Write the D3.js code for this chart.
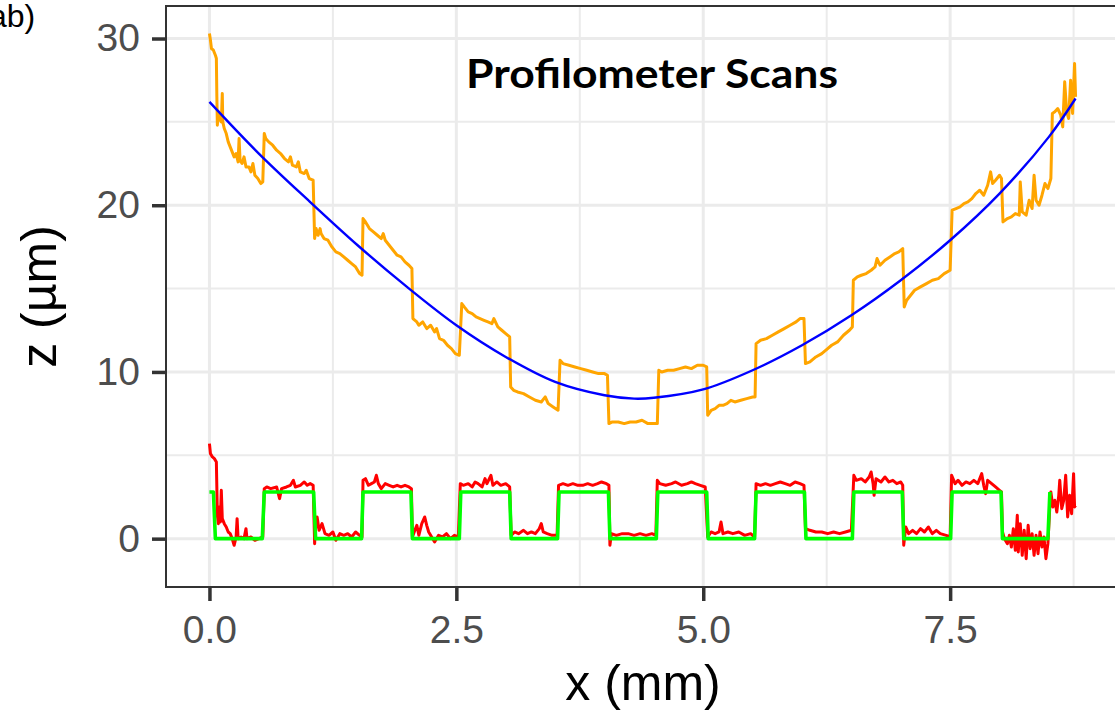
<!DOCTYPE html>
<html>
<head>
<meta charset="utf-8">
<script src="https://cdn.jsdelivr.net/npm/d3@7"></script>
<style>
  html, body { margin: 0; padding: 0; background: #fff; overflow: hidden; }
  svg { display: block; }
  .tick text { font-family: "Liberation Sans", Arial, sans-serif; }
</style>
</head>
<body>
<div id="chart"></div>
<script>
// ticks
const xTicks = [0, 2.5, 5, 7.5];
const xMinor = [1.25, 3.75, 6.25, 8.75];
const yTicks = [0, 10, 20, 30];
const yMinor = [5, 15, 25];

// profilometer scan of the curved part (x mm, z um)
const orangeScan = [
  [0, 30.3], [0.01, 29.9], [0.02, 29.4], [0.04, 29.3], [0.06, 29.0], [0.07, 28.8], [0.075, 26.5], [0.08, 24.8],
  [0.09, 25.6], [0.10, 25.2], [0.12, 25.0], [0.13, 26.7], [0.135, 25.0], [0.15, 24.6], [0.17, 24.3], [0.19, 23.8],
  [0.21, 23.5], [0.23, 23.2], [0.25, 22.9], [0.27, 23.1], [0.29, 22.6], [0.30, 24.0], [0.31, 22.7], [0.33, 22.5],
  [0.35, 22.9], [0.37, 22.3], [0.40, 22.3], [0.42, 22.0], [0.44, 22.5], [0.46, 21.8], [0.49, 21.6], [0.52, 21.3],
  [0.54, 21.4], [0.555, 24.3], [0.57, 24.0], [0.60, 23.8], [0.64, 23.6], [0.68, 23.3], [0.72, 23.1], [0.76, 22.8],
  [0.80, 22.6], [0.82, 22.9], [0.84, 22.4], [0.88, 22.3], [0.90, 22.6], [0.92, 22.0], [0.96, 21.9], [0.98, 22.1],
  [1.01, 21.6], [1.05, 21.5], [1.065, 18.0], [1.08, 18.6], [1.10, 18.2], [1.12, 18.6], [1.13, 18.3], [1.16, 18.0],
  [1.20, 17.9], [1.24, 17.5], [1.28, 17.2], [1.32, 17.1], [1.36, 16.9], [1.40, 16.7], [1.44, 16.5], [1.48, 16.3],
  [1.52, 15.9], [1.545, 15.8], [1.555, 19.2], [1.58, 19.0], [1.62, 18.6], [1.66, 18.4], [1.70, 18.2], [1.74, 18.0],
  [1.76, 18.3], [1.78, 17.9], [1.82, 17.6], [1.86, 17.3], [1.90, 17.0], [1.94, 16.9], [1.98, 16.6], [2.02, 16.4],
  [2.05, 16.2], [2.06, 13.2], [2.10, 13.0], [2.12, 12.8], [2.16, 13.0], [2.20, 12.6], [2.24, 12.8], [2.28, 12.4],
  [2.30, 12.6], [2.33, 12.0], [2.37, 11.9], [2.41, 11.6], [2.45, 11.4], [2.49, 11.1], [2.53, 11.0], [2.555, 14.1],
  [2.58, 13.9], [2.62, 13.6], [2.66, 13.5], [2.70, 13.3], [2.74, 13.2], [2.78, 13.1], [2.82, 13.0], [2.86, 12.9],
  [2.88, 13.2], [2.92, 12.7], [2.96, 12.5], [3.00, 12.3], [3.04, 12.1], [3.05, 9.1], [3.08, 8.9], [3.12, 8.8],
  [3.18, 8.7], [3.24, 8.5], [3.30, 8.3], [3.36, 8.2], [3.40, 8.5], [3.43, 8.1], [3.48, 7.9], [3.53, 7.7],
  [3.55, 10.7], [3.58, 10.5], [3.64, 10.4], [3.70, 10.3], [3.76, 10.2], [3.82, 10.1], [3.88, 10.0], [3.94, 9.9],
  [4.00, 9.9], [4.03, 9.8], [4.045, 6.9], [4.08, 7.0], [4.14, 7.0], [4.20, 6.9], [4.26, 7.0], [4.32, 7.0],
  [4.38, 7.1], [4.44, 6.9], [4.50, 6.9], [4.535, 6.9], [4.55, 10.1], [4.58, 10.0], [4.64, 10.1], [4.70, 10.1],
  [4.76, 10.2], [4.82, 10.3], [4.88, 10.2], [4.94, 10.4], [5.00, 10.4], [5.035, 10.3], [5.045, 7.4], [5.08, 7.7],
  [5.12, 7.8], [5.16, 8.0], [5.20, 8.0], [5.24, 8.1], [5.28, 8.3], [5.32, 8.2], [5.38, 8.3], [5.44, 8.4],
  [5.50, 8.5], [5.525, 8.5], [5.535, 11.7], [5.58, 11.9], [5.64, 12.0], [5.70, 12.2], [5.76, 12.4], [5.82, 12.6],
  [5.88, 12.8], [5.94, 13.0], [5.98, 13.2], [6.02, 13.2], [6.035, 10.5], [6.08, 10.6], [6.14, 10.9], [6.20, 11.1],
  [6.26, 11.4], [6.30, 11.6], [6.36, 11.8], [6.42, 12.2], [6.48, 12.5], [6.51, 12.7], [6.52, 15.5], [6.56, 15.7],
  [6.60, 15.8], [6.65, 15.9], [6.70, 16.1], [6.74, 16.3], [6.76, 16.8], [6.79, 16.4], [6.84, 16.7], [6.89, 16.9],
  [6.94, 17.1], [6.98, 17.2], [7.02, 17.4], [7.035, 13.9], [7.06, 14.3], [7.10, 14.6], [7.14, 14.9], [7.20, 15.1],
  [7.26, 15.3], [7.32, 15.5], [7.38, 15.6], [7.44, 15.9], [7.50, 16.1], [7.52, 19.7], [7.56, 19.8], [7.60, 19.9],
  [7.64, 20.1], [7.68, 20.2], [7.72, 20.4], [7.76, 20.7], [7.80, 20.9], [7.84, 20.6], [7.88, 21.2], [7.91, 22.0],
  [7.93, 21.3], [7.96, 21.5], [8.00, 21.8], [8.02, 21.6], [8.035, 19.0], [8.08, 19.2], [8.12, 19.3], [8.16, 19.5],
  [8.20, 19.4], [8.21, 21.4], [8.23, 19.6], [8.27, 19.4], [8.30, 20.3], [8.33, 19.8], [8.35, 21.8], [8.37, 20.3],
  [8.40, 20.0], [8.43, 20.6], [8.46, 21.3], [8.49, 21.0], [8.52, 21.6], [8.535, 25.5], [8.56, 25.6], [8.59, 25.8],
  [8.62, 25.4], [8.64, 24.7], [8.66, 27.4], [8.68, 25.6], [8.70, 25.2], [8.72, 27.5], [8.74, 25.5], [8.76, 28.5],
  [8.77, 26.5]
];

// polynomial fit of the curved scan
const blueFit = [
  [0, 26.2], [0.5, 23.1], [1.0, 20.3], [1.5, 17.6], [2.0, 15.1], [2.5, 12.8], [3.0, 10.9], [3.5, 9.4],
  [4.0, 8.6], [4.3, 8.4], [4.5, 8.45], [5.0, 8.95], [5.5, 10.1], [6.0, 11.6], [6.5, 13.4], [7.0, 15.5],
  [7.5, 17.9], [8.0, 20.7], [8.5, 24.1], [8.77, 26.4]
];

// flattened scan (residual steps)
const redScan = [
  [0, 5.7], [0.01, 5.1], [0.03, 4.9], [0.05, 4.8], [0.07, 4.6], [0.08, 1.4], [0.09, 0.9], [0.10, 1.9],
  [0.11, 1.0], [0.12, 2.9], [0.13, 1.2], [0.15, 0.9], [0.17, 0.7], [0.19, 0.4], [0.21, 0.3], [0.23, 0.0],
  [0.25, -0.4], [0.27, 0.1], [0.28, 1.2], [0.29, 0.0], [0.32, 0.1], [0.35, 0.0], [0.37, 0.6], [0.38, 0.0],
  [0.42, 0.1], [0.46, -0.1], [0.50, 0.0], [0.54, 0.1], [0.555, 3.0], [0.58, 3.1], [0.62, 3.0], [0.68, 3.1],
  [0.71, 2.4], [0.73, 3.0], [0.78, 3.1], [0.82, 3.2], [0.85, 3.5], [0.87, 3.1], [0.92, 3.2], [0.96, 3.4],
  [0.99, 3.2], [1.02, 3.3], [1.05, 3.2], [1.065, -0.3], [1.07, 0.4], [1.09, 1.3], [1.11, 0.5], [1.14, 0.9],
  [1.17, 0.3], [1.21, 0.2], [1.25, 0.4], [1.28, -0.1], [1.32, 0.3], [1.36, 0.2], [1.40, 0.3], [1.44, 0.1],
  [1.48, 0.4], [1.52, 0.2], [1.545, 0.1], [1.555, 3.5], [1.58, 3.6], [1.61, 3.2], [1.64, 3.3], [1.67, 3.4],
  [1.69, 3.8], [1.71, 3.3], [1.74, 3.0], [1.78, 3.3], [1.82, 3.2], [1.86, 3.1], [1.90, 3.2], [1.94, 3.1],
  [1.98, 3.2], [2.02, 3.1], [2.045, 3.0], [2.055, 0.1], [2.08, 0.5], [2.10, 0.8], [2.12, 0.2], [2.15, 0.9],
  [2.18, 1.3], [2.20, 0.8], [2.22, 0.4], [2.25, 0.1], [2.28, -0.2], [2.32, 0.2], [2.36, 0.1], [2.40, 0.3],
  [2.44, 0.0], [2.48, 0.2], [2.52, 0.1], [2.54, 3.3], [2.57, 3.2], [2.62, 3.3], [2.66, 3.1], [2.69, 3.4],
  [2.72, 3.3], [2.76, 3.1], [2.79, 3.6], [2.81, 3.3], [2.85, 3.8], [2.87, 3.2], [2.91, 3.4], [2.95, 3.2],
  [3.00, 3.3], [3.04, 3.1], [3.055, 0.2], [3.09, 0.4], [3.13, 0.3], [3.18, 0.5], [3.22, 0.3], [3.26, 0.4],
  [3.30, 0.3], [3.34, 0.6], [3.36, 0.9], [3.38, 0.4], [3.42, 0.3], [3.47, 0.2], [3.52, 0.2], [3.535, 3.2],
  [3.58, 3.3], [3.63, 3.2], [3.68, 3.3], [3.73, 3.2], [3.78, 3.2], [3.83, 3.3], [3.88, 3.2], [3.93, 3.3],
  [3.97, 3.4], [4.02, 3.3], [4.045, 3.2], [4.055, -0.4], [4.07, 0.3], [4.12, 0.2], [4.18, 0.3], [4.24, 0.3],
  [4.30, 0.2], [4.36, 0.3], [4.42, 0.2], [4.48, 0.3], [4.52, 0.2], [4.535, 3.5], [4.56, 3.3], [4.62, 3.2],
  [4.68, 3.3], [4.72, 3.4], [4.78, 3.2], [4.84, 3.3], [4.88, 3.4], [4.92, 3.3], [4.97, 3.2], [5.02, 3.1],
  [5.045, 0.1], [5.08, 0.4], [5.12, 0.3], [5.16, 0.4], [5.18, 1.0], [5.20, 0.3], [5.25, 0.4], [5.30, 0.3],
  [5.36, 0.4], [5.42, 0.2], [5.48, 0.3], [5.52, 0.1], [5.535, 3.3], [5.58, 3.2], [5.63, 3.3], [5.68, 3.2],
  [5.73, 3.3], [5.78, 3.4], [5.83, 3.3], [5.88, 3.2], [5.93, 3.4], [5.98, 3.3], [6.02, 3.2], [6.035, 0.6],
  [6.08, 0.5], [6.14, 0.4], [6.20, 0.4], [6.26, 0.3], [6.32, 0.4], [6.38, 0.3], [6.44, 0.4], [6.50, 0.5],
  [6.525, 3.8], [6.55, 3.5], [6.60, 3.6], [6.64, 3.4], [6.68, 3.7], [6.70, 4.0], [6.72, 3.3], [6.73, 2.6],
  [6.75, 3.6], [6.80, 3.4], [6.84, 3.7], [6.88, 3.4], [6.92, 3.5], [6.96, 3.3], [7.00, 3.4], [7.02, 3.2],
  [7.03, -0.4], [7.05, 0.7], [7.08, 0.3], [7.12, 0.5], [7.16, 0.3], [7.20, 0.6], [7.24, 0.4], [7.28, 0.7],
  [7.32, 0.3], [7.36, 0.5], [7.40, 0.3], [7.46, 0.2], [7.50, 0.1], [7.515, 3.8], [7.55, 3.3], [7.58, 3.5],
  [7.62, 3.2], [7.66, 3.4], [7.70, 3.3], [7.74, 3.5], [7.78, 3.3], [7.82, 3.9], [7.84, 3.2], [7.86, 2.7],
  [7.88, 3.5], [7.92, 3.3], [7.96, 3.1], [8.00, 2.9], [8.02, 2.8], [8.03, 0.4], [8.05, 0.0], [8.08, -0.3],
  [8.10, 0.2], [8.12, -0.5], [8.14, 0.6], [8.16, -0.7], [8.18, 1.4], [8.19, -0.8], [8.21, 0.9], [8.23, -1.0],
  [8.25, 0.5], [8.27, -1.2], [8.29, 0.8], [8.31, -0.6], [8.33, 0.3], [8.35, -1.0], [8.37, 0.2], [8.39, -0.9],
  [8.41, 0.4], [8.43, -0.5], [8.45, 0.1], [8.47, -1.2], [8.49, -0.3], [8.51, 2.0], [8.52, 2.8], [8.54, 1.9],
  [8.56, 2.3], [8.58, 1.6], [8.60, 2.6], [8.61, 3.5], [8.63, 1.8], [8.65, 2.3], [8.67, 3.8], [8.69, 1.3],
  [8.71, 2.6], [8.73, 1.5], [8.75, 3.9], [8.76, 1.9], [8.77, 2.0]
];

// ideal step profile
const greenSteps = [
  [0, 2.8], [0.04, 2.8], [0.06, 0], [0.535, 0], [0.555, 2.8], [1.055, 2.8], [1.075, 0], [1.54, 0],
  [1.555, 2.8], [2.04, 2.8], [2.055, 0], [2.53, 0], [2.545, 2.8], [3.04, 2.8], [3.055, 0], [3.525, 0],
  [3.54, 2.8], [4.04, 2.8], [4.055, 0], [4.525, 0], [4.54, 2.8], [5.035, 2.8], [5.05, 0], [5.52, 0],
  [5.535, 2.8], [6.025, 2.8], [6.04, 0], [6.51, 0], [6.525, 2.8], [7.015, 2.8], [7.03, 0], [7.505, 0],
  [7.52, 2.8], [8.015, 2.8], [8.03, 0], [8.49, 0], [8.51, 2.8]
];

const W = 1115, H = 718;
const panel = { left: 166, right: 1120, top: 6, bottom: 587 };

const svg = d3.select("#chart").append("svg")
  .attr("width", W).attr("height", H);

const x = d3.scaleLinear().domain([-0.44, 9.22]).range([panel.left, panel.right]);
const y = d3.scaleLinear().domain([-2.9, 31.95]).range([panel.bottom, panel.top]);

svg.append("defs").append("clipPath").attr("id", "clip")
  .append("rect")
  .attr("x", panel.left).attr("y", panel.top)
  .attr("width", panel.right - panel.left).attr("height", panel.bottom - panel.top);

// grid
const grid = svg.append("g");
grid.selectAll(".gxm").data(xMinor).join("line")
  .attr("x1", d => x(d)).attr("x2", d => x(d))
  .attr("y1", panel.top).attr("y2", panel.bottom)
  .attr("stroke", "#ebebeb").attr("stroke-width", 2);
grid.selectAll(".gym").data(yMinor).join("line")
  .attr("y1", d => y(d)).attr("y2", d => y(d))
  .attr("x1", panel.left).attr("x2", panel.right)
  .attr("stroke", "#ebebeb").attr("stroke-width", 2);
grid.selectAll(".gx").data(xTicks).join("line")
  .attr("x1", d => x(d)).attr("x2", d => x(d))
  .attr("y1", panel.top).attr("y2", panel.bottom)
  .attr("stroke", "#ebebeb").attr("stroke-width", 3);
grid.selectAll(".gy").data(yTicks).join("line")
  .attr("y1", d => y(d)).attr("y2", d => y(d))
  .attr("x1", panel.left).attr("x2", panel.right)
  .attr("stroke", "#ebebeb").attr("stroke-width", 3);

// lines
const line = d3.line().x(d => x(d[0])).y(d => y(d[1]));
const smooth = d3.line().curve(d3.curveCatmullRom).x(d => x(d[0])).y(d => y(d[1]));
const plot = svg.append("g").attr("clip-path", "url(#clip)");

plot.append("path").datum(orangeScan).attr("d", line)
  .attr("fill", "none").attr("stroke", "#ffa500").attr("stroke-width", 3)
  .attr("stroke-linejoin", "round");
plot.append("path").datum(blueFit).attr("d", smooth)
  .attr("fill", "none").attr("stroke", "#0000ff").attr("stroke-width", 2.4);
plot.append("path").datum(redScan).attr("d", line)
  .attr("fill", "none").attr("stroke", "#ff0000").attr("stroke-width", 3)
  .attr("stroke-linejoin", "round");
plot.append("path").datum(greenSteps).attr("d", line)
  .attr("fill", "none").attr("stroke", "#00ff00").attr("stroke-width", 3.6)
  .attr("stroke-linejoin", "round");

// panel border
svg.append("rect")
  .attr("x", panel.left).attr("y", panel.top)
  .attr("width", panel.right - panel.left).attr("height", panel.bottom - panel.top)
  .attr("fill", "none").attr("stroke", "#333333").attr("stroke-width", 2);

// axes
const xAxis = svg.append("g")
  .attr("transform", `translate(0,${panel.bottom})`)
  .call(d3.axisBottom(x).tickValues(xTicks).tickFormat(d3.format(".1f"))
    .tickSize(14).tickPadding(14).tickSizeOuter(0));
const yAxis = svg.append("g")
  .attr("transform", `translate(${panel.left},0)`)
  .call(d3.axisLeft(y).tickValues(yTicks).tickFormat(d3.format("d"))
    .tickSize(14).tickPadding(12).tickSizeOuter(0));

[xAxis, yAxis].forEach(a => {
  a.select(".domain").remove();
  a.selectAll(".tick line").attr("stroke", "#333333").attr("stroke-width", 3.5);
  a.selectAll(".tick text").attr("fill", "#4d4d4d").style("font-size", "39px");
});

// titles
svg.append("text")
  .attr("x", (panel.left + panel.right) / 2).attr("y", 700)
  .attr("text-anchor", "middle")
  .style("font-family", "'Liberation Sans', Arial, sans-serif")
  .style("font-size", "50px")
  .text("x (mm)");

svg.append("text")
  .attr("transform", `translate(56,${(panel.top + panel.bottom) / 2}) rotate(-90)`)
  .attr("text-anchor", "middle")
  .style("font-family", "'Liberation Sans', Arial, sans-serif")
  .style("font-size", "50px")
  .text("z (µm)");

svg.append("text")
  .attr("x", 466).attr("y", 88)
  .attr("textLength", 372).attr("lengthAdjust", "spacingAndGlyphs")
  .style("font-family", "Lato, 'Open Sans', sans-serif")
  .style("font-weight", "bold")
  .style("font-size", "41px")
  .text("Profilometer Scans");

svg.append("text")
  .attr("x", -11).attr("y", 27)
  .style("font-family", "'Liberation Sans', Arial, sans-serif")
  .style("font-size", "32px")
  .text("ab)");
</script>
</body>
</html>
